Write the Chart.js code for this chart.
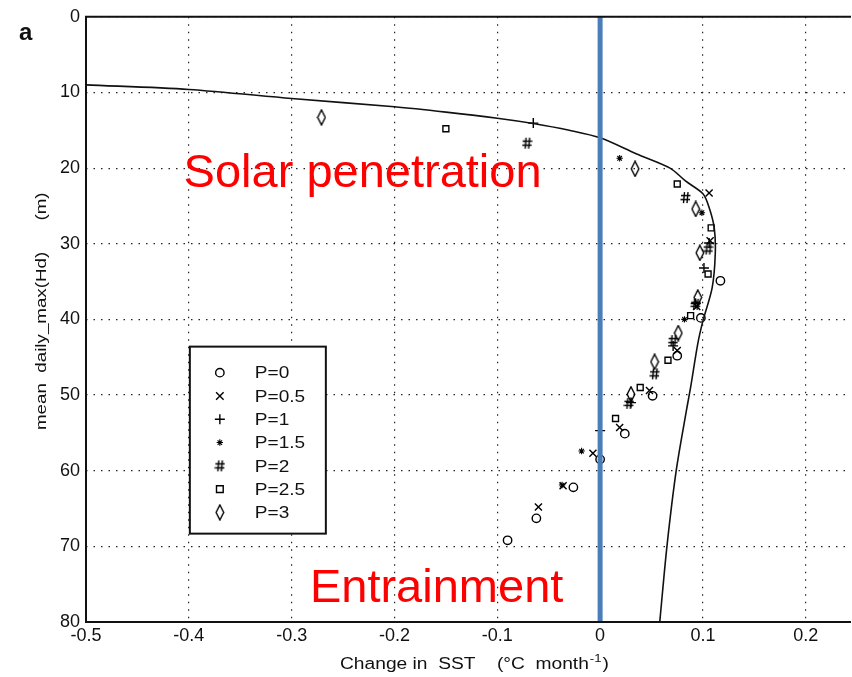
<!DOCTYPE html>
<html>
<head>
<meta charset="utf-8">
<script src="https://cdn.jsdelivr.net/npm/chart.js@4.4.0/dist/chart.umd.min.js"></script>
<style>
  html, body { margin: 0; padding: 0; background: #fff; }
</style>
</head>
<body>
<canvas id="sstChart" width="852" height="677"></canvas>
<script>
// model curve: change in SST vs mean daily max mixed layer depth
var curveX = [-0.5, -0.4, -0.3, -0.2, -0.15, -0.1, -0.065, -0.03, 0, 0.035, 0.068, 0.083, 0.1, 0.106, 0.111, 0.112, 0.109, 0.1, 0.095, 0.088, 0.084, 0.074, 0.065, 0.058];
var curveY = [9.0, 9.6, 10.8, 11.9, 12.6, 13.4, 14.1, 15.0, 16.0, 18.1, 20.0, 21.7, 23.4, 25.2, 27.9, 31.3, 35.8, 40.2, 43.2, 49.0, 52.0, 60.0, 70.0, 80.0];

// scatter runs, one per P
var p0X = [0.117, 0.098, 0.075, 0.051, 0.024, 0.000, -0.026, -0.062, -0.090];
var p0Y = [34.9, 39.8, 44.8, 50.1, 55.1, 58.5, 62.2, 66.3, 69.2];
var p05X = [0.106, 0.107, 0.094, 0.075, 0.048, 0.019, -0.007, -0.036, -0.060];
var p05Y = [23.3, 29.6, 38.3, 44.1, 49.4, 54.3, 57.7, 62.0, 64.8];
var p1X = [-0.065, 0.106, 0.101, 0.093, 0.071, 0.030, 0.000];
var p1Y = [14.05, 29.9, 33.2, 37.9, 43.5, 51.0, 54.7];
var p15X = [0.019, 0.099, 0.082, -0.018, -0.037];
var p15Y = [18.7, 25.9, 40.0, 57.4, 61.9];
var p2X = [-0.071, 0.083, 0.105, 0.093, 0.071, 0.053, 0.028];
var p2Y = [16.7, 23.9, 30.7, 38.0, 42.8, 47.2, 51.1];
var p25X = [-0.150, 0.075, 0.108, 0.105, 0.088, 0.066, 0.039, 0.015];
var p25Y = [14.8, 22.1, 27.9, 34.0, 39.5, 45.4, 49.0, 53.1];
var p3X = [-0.271, 0.034, 0.093, 0.097, 0.095, 0.076, 0.053, 0.030];
var p3Y = [13.3, 20.1, 25.4, 31.2, 37.1, 41.8, 45.6, 49.9];

var seriesLabels = ['P=0', 'P=0.5', 'P=1', 'P=1.5', 'P=2', 'P=2.5', 'P=3'];
var xTicks = [-0.5, -0.4, -0.3, -0.2, -0.1, 0, 0.1, 0.2];
var yTicks = [0, 10, 20, 30, 40, 50, 60, 70, 80];

var FONT = '"Liberation Sans", Arial, sans-serif';

function pairs(xs, ys) {
  return xs.map(function (x, i) { return {x: x, y: ys[i]}; });
}

// '#' marker
function hashMark() {
  var c = document.createElement('canvas');
  c.width = 11; c.height = 13;
  var g = c.getContext('2d');
  g.strokeStyle = '#000';
  g.lineWidth = 1.4;
  g.beginPath();
  g.moveTo(4.5, 1); g.lineTo(3.5, 12);
  g.moveTo(8, 1); g.lineTo(7, 12);
  g.moveTo(1, 4.5); g.lineTo(10.5, 4.5);
  g.moveTo(0.5, 8.5); g.lineTo(10, 8.5);
  g.stroke();
  return c;
}

// tall narrow diamond marker
function diamondMark() {
  var c = document.createElement('canvas');
  c.width = 10; c.height = 17;
  var g = c.getContext('2d');
  g.strokeStyle = '#000';
  g.lineWidth = 1.4;
  g.beginPath();
  g.moveTo(5, 1); g.lineTo(8.8, 8.5); g.lineTo(5, 16); g.lineTo(1.2, 8.5);
  g.closePath();
  g.stroke();
  return c;
}

var hashImg = hashMark();
var diamondImg = diamondMark();

var markStyles = ['circle', 'crossRot', 'cross', 'star', hashImg, 'rect', diamondImg];
var markRadius = [4.2, 5, 5, 3.2, 5, 4.2, 5];
var seriesX = [p0X, p05X, p1X, p15X, p2X, p25X, p3X];
var seriesY = [p0Y, p05Y, p1Y, p15Y, p2Y, p25Y, p3Y];

var datasets = [{
  label: 'zero',
  data: [{x: 0, y: 0}, {x: 0, y: 80}],
  showLine: true,
  borderColor: '#4a7ebb',
  borderWidth: 5,
  pointRadius: 0,
  order: 0
}, {
  label: 'model',
  data: pairs(curveX, curveY),
  showLine: true,
  borderColor: '#111',
  borderWidth: 1.6,
  tension: 0.3,
  pointRadius: 0,
  order: 1
}];

seriesLabels.forEach(function (name, i) {
  datasets.push({
    label: name,
    data: pairs(seriesX[i], seriesY[i]),
    pointStyle: markStyles[i],
    pointRadius: markRadius[i],
    pointBorderColor: '#000',
    pointBackgroundColor: 'rgba(0,0,0,0)',
    pointBorderWidth: i === 3 ? 1.1 : 1.4,
    order: 2
  });
});

// small helper for legend glyphs
function drawGlyph(ctx, style, r, x, y) {
  ctx.save();
  ctx.strokeStyle = '#000';
  ctx.lineWidth = 1.4;
  if (typeof style !== 'string') {
    ctx.drawImage(style, x - style.width / 2, y - style.height / 2);
    ctx.restore();
    return;
  }
  ctx.beginPath();
  if (style === 'circle') {
    ctx.arc(x, y, r, 0, Math.PI * 2);
  } else if (style === 'rect') {
    ctx.rect(x - r * 0.8, y - r * 0.8, r * 1.6, r * 1.6);
  } else if (style === 'cross') {
    ctx.moveTo(x - r, y); ctx.lineTo(x + r, y);
    ctx.moveTo(x, y - r); ctx.lineTo(x, y + r);
  } else if (style === 'crossRot') {
    var d = r * 0.75;
    ctx.moveTo(x - d, y - d); ctx.lineTo(x + d, y + d);
    ctx.moveTo(x + d, y - d); ctx.lineTo(x - d, y + d);
  } else if (style === 'star') {
    ctx.lineWidth = 1.1;
    ctx.moveTo(x - r, y); ctx.lineTo(x + r, y);
    ctx.moveTo(x, y - r); ctx.lineTo(x, y + r);
    ctx.moveTo(x - r * 0.7, y - r * 0.7); ctx.lineTo(x + r * 0.7, y + r * 0.7);
    ctx.moveTo(x + r * 0.7, y - r * 0.7); ctx.lineTo(x - r * 0.7, y + r * 0.7);
  }
  ctx.stroke();
  ctx.restore();
}

// horizontally stretched text, like the old plotting fonts
function wideText(ctx, str, x, y, stretch) {
  ctx.save();
  ctx.translate(x, y);
  ctx.scale(stretch, 1);
  ctx.fillText(str, 0, 0);
  ctx.restore();
}

var decorations = {
  id: 'decorations',
  afterDatasetsDraw: function (chart) {
    var ctx = chart.ctx;
    var a = chart.chartArea;
    var xs = chart.scales.x, ys = chart.scales.y;

    // frame: top, left and bottom (right side runs off the panel)
    ctx.save();
    ctx.strokeStyle = '#111';
    ctx.lineWidth = 2;
    ctx.beginPath();
    ctx.moveTo(a.right, a.top);
    ctx.lineTo(a.left, a.top);
    ctx.lineTo(a.left, a.bottom);
    ctx.lineTo(a.right, a.bottom);
    ctx.stroke();

    // legend box
    var lx = xs.getPixelForValue(-0.399);
    var ly = ys.getPixelForValue(43.6);
    ctx.fillStyle = '#fff';
    ctx.fillRect(lx, ly, 136, 187);
    ctx.strokeRect(lx, ly, 136, 187);
    ctx.fillStyle = '#111';
    ctx.font = '17px ' + FONT;
    ctx.textBaseline = 'middle';
    ctx.textAlign = 'left';
    seriesLabels.forEach(function (name, i) {
      var rowY = ly + 26 + i * 23.3;
      drawGlyph(ctx, markStyles[i], markRadius[i], lx + 30, rowY);
      wideText(ctx, name, lx + 65, rowY + 1, 1.12);
    });

    // axis titles
    ctx.font = '16px ' + FONT;
    ctx.textBaseline = 'alphabetic';
    ctx.textAlign = 'left';
    var tx = 340, ty = 669;
    var main = 'Change in  SST    (\u00b0C  month';
    wideText(ctx, main, tx, ty, 1.2);
    var w = ctx.measureText(main).width * 1.2;
    ctx.font = '11px ' + FONT;
    wideText(ctx, '-1', tx + w + 1, ty - 7, 1.2);
    var w2 = ctx.measureText('-1').width * 1.2;
    ctx.font = '16px ' + FONT;
    wideText(ctx, ')', tx + w + w2 + 2, ty, 1.2);

    ctx.save();
    ctx.translate(46, 430);
    ctx.rotate(-Math.PI / 2);
    ctx.font = '15px ' + FONT;
    wideText(ctx, 'mean  daily_max(Hd)      (m)', 0, 0, 1.25);
    ctx.restore();

    // region labels
    ctx.fillStyle = '#ff0000';
    ctx.font = '47px ' + FONT;
    ctx.textAlign = 'center';
    ctx.textBaseline = 'alphabetic';
    ctx.fillText('Solar penetration', xs.getPixelForValue(-0.231), ys.getPixelForValue(22.5));
    ctx.fillText('Entrainment', xs.getPixelForValue(-0.159), ys.getPixelForValue(77.4));

    // panel letter
    ctx.fillStyle = '#111';
    ctx.font = 'bold 24px ' + FONT;
    ctx.textAlign = 'left';
    ctx.fillText('a', 19, 40);
    ctx.restore();
  }
};

var tickFont = {family: FONT, size: 18};

new Chart(document.getElementById('sstChart').getContext('2d'), {
  type: 'scatter',
  data: {datasets: datasets},
  options: {
    responsive: false,
    animation: false,
    devicePixelRatio: 1,
    layout: {autoPadding: false, padding: {top: 15, right: 1, left: 0, bottom: 0}},
    plugins: {
      legend: {display: false},
      tooltip: {enabled: false}
    },
    scales: {
      x: {
        type: 'linear',
        min: -0.5,
        max: 0.244,
        afterBuildTicks: function (axis) {
          axis.ticks = xTicks.map(function (v) { return {value: v}; });
        },
        afterFit: function (axis) {
          axis.height = 55;
          axis.paddingLeft = 0;
          axis.paddingRight = 0;
        },
        grid: {color: '#222', lineWidth: 1.2, drawTicks: false},
        border: {display: false, dash: [1.5, 6]},
        ticks: {
          color: '#111',
          font: tickFont,
          padding: 3,
          maxRotation: 0,
          autoSkip: false,
          callback: function (v) { return v === 0 ? '0' : v.toFixed(1); }
        }
      },
      y: {
        type: 'linear',
        min: 0,
        max: 80,
        reverse: true,
        afterBuildTicks: function (axis) {
          axis.ticks = yTicks.map(function (v) { return {value: v}; });
        },
        afterFit: function (axis) { axis.width = 86; },
        grid: {color: '#222', lineWidth: 1.2, drawTicks: false},
        border: {display: false, dash: [1.5, 6]},
        ticks: {
          color: '#111',
          font: tickFont,
          padding: 6,
          autoSkip: false
        }
      }
    }
  },
  plugins: [decorations]
});
</script>
</body>
</html>
